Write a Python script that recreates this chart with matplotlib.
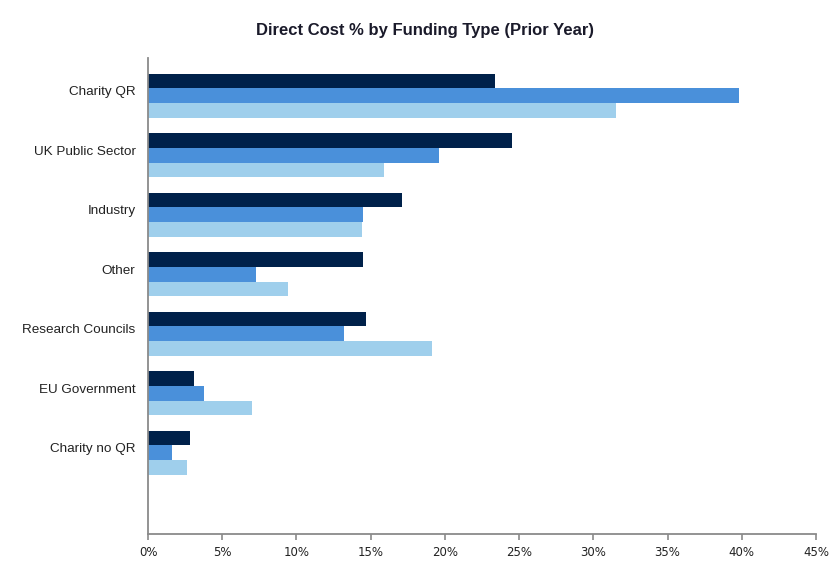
import matplotlib
matplotlib.use('Agg')
import matplotlib.pyplot as plt
import numpy as np

categories = ['Charity QR', 'UK Public Sector', 'Industry', 'Other',
              'Research Councils', 'EU Government', 'Charity no QR', '']
series_dark = [23.4, 24.5, 17.1, 14.5, 14.7, 3.1, 2.8, 0]
series_mid = [39.8, 19.6, 14.5, 7.3, 13.2, 3.8, 1.6, 0]
series_light = [31.5, 15.9, 14.4, 9.4, 19.1, 7.0, 2.6, 0]
x_ticks = [0, 5, 10, 15, 20, 25, 30, 35, 40, 45]

plt.rcParams['font.family'] = ['Liberation Sans', 'DejaVu Sans']

fig = plt.figure(figsize=(8.38, 5.63), dpi=100)
ax = fig.add_axes([148 / 838, 1 - 534 / 563, (816 - 148) / 838, (534 - 58) / 563])

y = np.arange(len(categories))
h = 0.245
ax.barh(y - 0.11, series_dark, height=h, color='#00214a')
ax.barh(y + 0.135, series_mid, height=h, color='#4a90da')
ax.barh(y + 0.38, series_light, height=h, color='#9fcfec')

ax.set_ylim(len(categories) - 0.5, -0.5)
ax.set_xlim(0, 45)
ax.set_xticks(x_ticks)
ax.set_xticklabels([f'{t}%' for t in x_ticks], fontsize=8.5, color='#222222',
                   family='DejaVu Sans')
ax.set_yticks(y + 0.05)
ax.set_yticklabels(categories, fontsize=9.7, color='#222222')
ax.tick_params(axis='y', length=0, pad=9)
ax.tick_params(axis='x', length=4, color='#8a8a8a', width=1.2, pad=5)

for s in ['top', 'right']:
    ax.spines[s].set_visible(False)
for s in ['left', 'bottom']:
    ax.spines[s].set_color('#8a8a8a')
    ax.spines[s].set_linewidth(1.3)

fig.text(0.507, 1 - 30 / 563, 'Direct Cost % by Funding Type (Prior Year)',
         ha='center', va='center', fontsize=12, fontweight='bold', color='#1a1a2a')

fig.savefig('out.png', dpi=100)
